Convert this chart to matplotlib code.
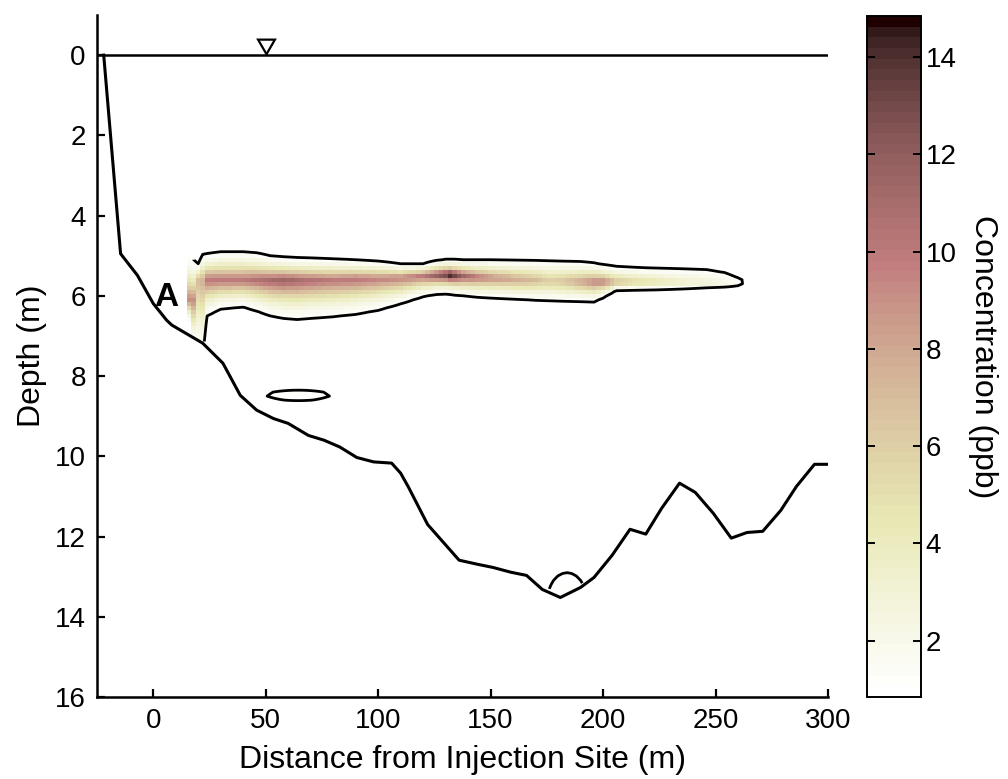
import numpy as np
import matplotlib
matplotlib.use("Agg")
from matplotlib import pyplot as plt

plt.rcParams['font.family'] = ['Liberation Sans', 'DejaVu Sans']

# river bed profile (distance m, depth m)
bed_x = [-22, -14.5, -7, 0, 6, 8.3, 22, 31, 38.7, 46, 53.5, 60, 69, 76, 83, 90.5, 98, 106,
         110, 113.5, 122, 136, 144, 151, 159, 166, 173, 181, 190, 196, 204, 212, 219, 226,
         234, 241, 249, 257, 264, 271, 279, 286, 294, 300]
bed_depth = [0, 4.95, 5.49, 6.19, 6.61, 6.73, 7.18, 7.68, 8.48, 8.85, 9.06, 9.18, 9.48, 9.6,
             9.77, 10.03, 10.14, 10.17, 10.42, 10.77, 11.7, 12.59, 12.69, 12.77, 12.89, 12.97,
             13.32, 13.52, 13.27, 13.02, 12.47, 11.82, 11.94, 11.3, 10.67, 10.9, 11.42, 12.04,
             11.9, 11.87, 11.35, 10.75, 10.2, 10.2]

# dye plume: stations, core depth, peak (ppb), top / bottom of 1 ppb edge
plume_x = [16, 18, 20, 22, 24, 30, 40, 46, 52, 58, 64, 70, 80, 90, 100, 110, 120, 126, 130,
           132, 134, 138, 144, 150, 160, 170, 176, 182, 190, 196, 200, 206, 214, 224, 236, 246,
           254, 260, 264]
plume_core = [6.1, 6.1, 5.62, 5.62, 5.6, 5.6, 5.6, 5.6, 5.6, 5.6, 5.6, 5.6, 5.6, 5.58, 5.57,
              5.55, 5.5, 5.48, 5.47, 5.47, 5.48, 5.5, 5.53, 5.55, 5.58, 5.6, 5.62, 5.63, 5.64,
              5.65, 5.65, 5.66, 5.66, 5.66, 5.67, 5.68, 5.7, 5.72, 5.72]
plume_peak = [9, 9, 7, 7.5, 10, 10, 10, 10.5, 11, 11.5, 11, 10.5, 10, 10, 9.5, 9.5, 10, 12,
              13.5, 14.8, 13.5, 11.5, 10, 9, 8, 7, 6, 6.5, 8, 9.5, 9.5, 7, 5.5, 4.5, 3.5, 3,
              2.2, 1.4, 0.6]
plume_top = [5.0, 5.1, 5.2, 4.97, 4.95, 4.9, 4.9, 4.93, 5.0, 5.03, 5.05, 5.06, 5.08, 5.1,
             5.14, 5.2, 5.2, 5.12, 5.09, 5.09, 5.09, 5.1, 5.1, 5.1, 5.11, 5.12, 5.13, 5.14,
             5.15, 5.18, 5.22, 5.27, 5.29, 5.31, 5.33, 5.35, 5.42, 5.55, 5.7]
plume_bottom = [6.65, 7.2, 7.4, 7.4, 6.5, 6.33, 6.28, 6.38, 6.5, 6.56, 6.59, 6.56, 6.52, 6.46,
                6.36, 6.2, 6.02, 5.96, 5.95, 5.96, 5.98, 6.0, 6.03, 6.05, 6.08, 6.11, 6.12,
                6.13, 6.14, 6.15, 6.05, 5.86, 5.85, 5.84, 5.82, 5.8, 5.78, 5.76, 5.74]

# small separate patches (centre x, centre depth, peak, spread x, spread depth)
patch_x = [64.5, 184]
patch_depth = [8.48, 13.6]
patch_peak = [1.25, 1.1]
patch_sx = [21, 20]
patch_sz = [0.2, 1.6]

edge_level = 1.0
clim = (0.84, 14.84)
cbar_ticks = [2, 4, 6, 8, 10, 12, 14]
x_ticks = [0, 50, 100, 150, 200, 250, 300]
y_ticks = [0, 2, 4, 6, 8, 10, 12, 14, 16]
marker_x, marker_depth = 50, -0.28

# build the concentration section on a regular grid
gx = np.arange(16, 301, 2.0)
gz = np.arange(0, 14.01, 0.1)
X, Z = np.meshgrid(gx, gz)

zc = np.interp(gx, plume_x, plume_core)
pk = np.interp(gx, plume_x, plume_peak, left=0, right=0)
zt = np.interp(gx, plume_x, plume_top)
zb = np.interp(gx, plume_x, plume_bottom)
pk_eff = np.maximum(pk, 1.01)
half = np.where(Z < zc, zc - zt, zb - zc)
conc = pk_eff * (edge_level / pk_eff) ** (np.abs((Z - zc) / half) ** 1.4)
conc = conc * pk / pk_eff

for px, pz, pp, sx, sz in zip(patch_x, patch_depth, patch_peak, patch_sx, patch_sz):
    conc += pp * np.exp(-0.5 * (((X - px) / sx) ** 2 + ((Z - pz) / sz) ** 2))

bed_on_grid = np.interp(gx, bed_x, bed_depth)
conc = np.ma.masked_where(Z > bed_on_grid, conc)

cmap = matplotlib.colormaps['pink_r'].resampled(64)

fig = plt.figure(figsize=(10.08, 7.79), dpi=100)
ax = fig.add_axes([0.0962, 0.1053, 0.7252, 0.8754])

pc = ax.pcolormesh(gx, gz, conc, cmap=cmap, vmin=clim[0], vmax=clim[1], shading='nearest')
# the outline is only traced from the second survey column on
ax.contour(gx[1:], gz, conc[:, 1:], levels=[edge_level], colors='black', linewidths=2.0)
ax.plot(bed_x, bed_depth, color='black', lw=2.2)
ax.axhline(0, color='black', lw=1.8)
ax.plot(marker_x, marker_depth, marker=(3, 0, 180), ms=14,
        mfc='white', mec='black', mew=1.6, clip_on=False)
ax.text(5.6, 6.05, 'A', fontsize=24, fontweight='bold', ha='center', va='center')

ax.set_xlim(-25, 300)
ax.set_ylim(16, -1)
ax.set_xticks(x_ticks)
ax.set_yticks(y_ticks)
for side in ['top', 'right']:
    ax.spines[side].set_visible(False)
for side in ['left', 'bottom']:
    ax.spines[side].set_linewidth(1.8)
ax.tick_params(direction='in', length=6, width=1.6, labelsize=20, pad=8)
ax.set_xlabel('Distance from Injection Site (m)', fontsize=23, labelpad=8)
ax.set_ylabel('Depth (m)', fontsize=23, labelpad=6)

cax = fig.add_axes([0.860, 0.1053, 0.0536, 0.874])
cb = fig.colorbar(pc, cax=cax)
cb.set_ticks(cbar_ticks)
cb.outline.set_linewidth(1.4)
cax.tick_params(direction='in', left=True, right=True, length=6, width=1.4, labelsize=20)
cb.set_label('Concentration (ppb)', fontsize=23, rotation=-90, labelpad=30)

fig.savefig('out.png', dpi=100)
